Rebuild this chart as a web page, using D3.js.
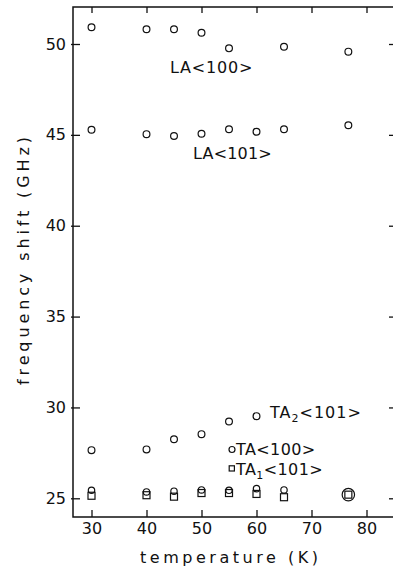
<!DOCTYPE html>
<html>
<head>
<meta charset="utf-8">
<script src="https://cdn.jsdelivr.net/npm/d3@7"></script>
<style>
  html, body { margin: 0; padding: 0; background: #fff; }
  svg { display: block; font-family: "DejaVu Sans", sans-serif; }
</style>
</head>
<body>
<div id="chart"></div>
<script>
// temperatures (K) and frequency shifts (GHz)
const la100T = [30, 40, 45, 50, 55, 65, 76.7];
const la100V = [50.92, 50.81, 50.81, 50.62, 49.76, 49.85, 49.58];

const la101T = [30, 40, 45, 50, 55, 60, 65, 76.7];
const la101V = [45.28, 45.04, 44.94, 45.06, 45.31, 45.17, 45.31, 45.53];

const ta2T = [30, 40, 45, 50, 55, 60];
const ta2V = [27.65, 27.69, 28.25, 28.53, 29.23, 29.52];

const ta100T = [30, 40, 45, 50, 55, 60, 65, 76.7];
const ta100V = [25.44, 25.35, 25.39, 25.46, 25.44, 25.53, 25.46, 25.2];

const ta1T = [30, 40, 45, 50, 55, 60, 65, 76.7];
const ta1V = [25.14, 25.17, 25.09, 25.29, 25.29, 25.24, 25.06, 25.2];

const xTicks = [30, 40, 50, 60, 70, 80];
const yTicks = [25, 30, 35, 40, 45, 50];

const width = 393, height = 571;
const plotL = 73, plotR = 394, plotT = 7, plotB = 517;

const svg = d3.select('#chart')
  .append('svg')
  .attr('width', width)
  .attr('height', height);

const x = d3.scaleLinear().domain([26.636, 85]).range([plotL, plotR]);
const y = d3.scaleLinear().domain([23.971, 52.036]).range([plotB, plotT]);

// axes, ticks pointing into the plot
const styleAxis = g => {
  g.select('.domain').remove();
  g.selectAll('.tick line').attr('stroke', '#111').attr('stroke-width', 1.3);
  g.selectAll('.tick text')
    .attr('fill', '#111')
    .style('font-size', '16px')
    .style('font-family', '"DejaVu Sans", sans-serif');
};

svg.append('g')
  .attr('transform', `translate(0,${plotB})`)
  .call(d3.axisBottom(x).tickValues(xTicks).tickSizeInner(-7).tickSizeOuter(0).tickPadding(6))
  .call(styleAxis);

svg.append('g')
  .attr('transform', `translate(0,${plotT})`)
  .call(d3.axisTop(x).tickValues(xTicks).tickSizeInner(-6).tickSizeOuter(0).tickFormat(''))
  .call(styleAxis);

svg.append('g')
  .attr('transform', `translate(${plotL},0)`)
  .call(d3.axisLeft(y).tickValues(yTicks).tickSizeInner(-7).tickSizeOuter(0).tickPadding(7))
  .call(styleAxis)
  .selectAll('.tick line').attr('x1', -2);

svg.append('g')
  .attr('transform', `translate(${plotR},0)`)
  .call(d3.axisRight(y).tickValues(yTicks).tickSizeInner(-5).tickSizeOuter(0).tickFormat(''))
  .call(styleAxis);

// frame
svg.append('path')
  .attr('d', `M${plotL},${plotT} L${plotR},${plotT} L${plotR},${plotB} L${plotL},${plotB} Z`)
  .attr('fill', 'none')
  .attr('stroke', '#111')
  .attr('stroke-width', 1.5);

// markers
const circles = (ts, vs, r) => {
  svg.append('g').selectAll('circle')
    .data(ts.map((t, i) => ({ t: t, v: vs[i] })))
    .join('circle')
    .attr('cx', d => x(d.t))
    .attr('cy', d => y(d.v))
    .attr('r', r)
    .attr('fill', 'none')
    .attr('stroke', '#111')
    .attr('stroke-width', 1.2);
};

circles(la100T, la100V, () => 3.4);
circles(la101T, la101V, () => 3.4);
circles(ta2T, ta2V, () => 3.4);

// where TA<100> and TA1<101> coincide the circle is drawn round the square
const coincide = (t, v) => ta1T.some((tt, i) => tt === t && ta1V[i] === v);
circles(ta100T, ta100V, d => coincide(d.t, d.v) ? 6.2 : 3.2);

svg.append('g').selectAll('rect')
  .data(ta1T.map((t, i) => ({ t: t, v: ta1V[i] })))
  .join('rect')
  .attr('x', d => x(d.t) - (coincide(d.t, d.v) ? 3.5 : 2.8))
  .attr('y', d => y(d.v) - (coincide(d.t, d.v) ? 3.5 : 2.8))
  .attr('width', d => coincide(d.t, d.v) ? 7 : 5.6)
  .attr('height', d => coincide(d.t, d.v) ? 7 : 5.6)
  .attr('fill', 'none')
  .attr('stroke', '#111')
  .attr('stroke-width', 1.2);

// series labels
const label = (px, py, parts, spacing) => {
  const t = svg.append('text')
    .attr('x', px)
    .attr('y', py)
    .attr('fill', '#111')
    .style('font-size', '16px')
    .style('letter-spacing', spacing + 'px');
  parts.forEach(p => {
    const s = t.append('tspan').text(p.s);
    if (p.sub) s.style('font-size', '11px').attr('dy', 4);
    if (p.up) s.attr('dy', -4);
  });
};

label(170, 73, [{ s: 'LA<100>' }], 0.8);
label(193, 159, [{ s: 'LA<101>' }], 0.2);
label(270, 418, [{ s: 'TA' }, { s: '2', sub: true }, { s: '<101>', up: true }], 1);
label(236, 455, [{ s: 'TA<100>' }], 0.4);
label(236, 475, [{ s: 'TA' }, { s: '1', sub: true }, { s: '<101>', up: true }], 0.4);

// legend symbols
svg.append('circle')
  .attr('cx', 232).attr('cy', 449.5).attr('r', 3)
  .attr('fill', 'none').attr('stroke', '#111').attr('stroke-width', 1.2);
svg.append('rect')
  .attr('x', 229.2).attr('y', 465.8).attr('width', 5.2).attr('height', 5.2)
  .attr('fill', 'none').attr('stroke', '#111').attr('stroke-width', 1.2);

// axis titles
svg.append('text')
  .attr('x', 229)
  .attr('y', 563)
  .attr('text-anchor', 'middle')
  .attr('fill', '#111')
  .attr('textLength', 178)
  .attr('lengthAdjust', 'spacing')
  .style('font-size', '16px')
  .text('temperature (K)');

svg.append('text')
  .attr('transform', 'translate(29,261) rotate(-90)')
  .attr('text-anchor', 'middle')
  .attr('fill', '#111')
  .attr('textLength', 248)
  .attr('lengthAdjust', 'spacing')
  .style('font-size', '16px')
  .text('frequency shift (GHz)');
</script>
</body>
</html>
